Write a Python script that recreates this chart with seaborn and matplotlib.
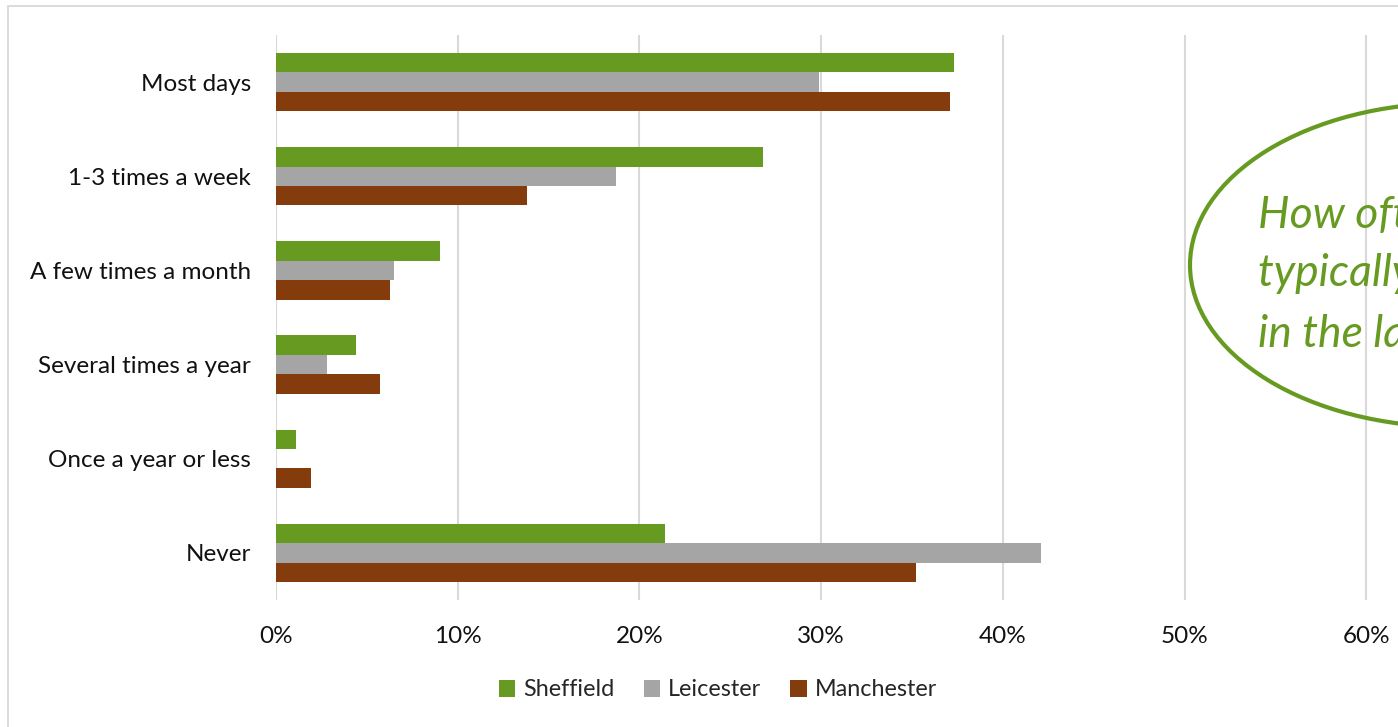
import matplotlib
matplotlib.use("Agg")
import matplotlib.pyplot as plt
from matplotlib.patches import Ellipse, Rectangle, Patch
from matplotlib.ticker import PercentFormatter
import pandas as pd
import seaborn as sns

# Survey responses: share of respondents per frequency band, by city
categories = ["Most days", "1-3 times a week", "A few times a month",
              "Several times a year", "Once a year or less", "Never"]
cities = ["Sheffield", "Leicester", "Manchester"]
sheffield = [37.3, 26.8, 9.0, 4.4, 1.1, 21.4]
leicester = [29.9, 18.7, 6.5, 2.8, 0.0, 42.1]
manchester = [37.1, 13.8, 6.3, 5.7, 1.9, 35.2]
x_ticks = [0, 10, 20, 30, 40, 50, 60]
callout_lines = ["How often have you", "typically visited", "in the last year?"]

colors = ["#669A21", "#A5A5A5", "#843C0C"]
GREEN = colors[0]

rows = []
for city, vals in zip(cities, [sheffield, leicester, manchester]):
    for cat, v in zip(categories, vals):
        rows.append({"category": cat, "city": city, "share": v})
df = pd.DataFrame(rows)

sns.set_theme(style="white")
plt.rcParams["font.family"] = ["Lato", "DejaVu Sans"]

W, H = 1398, 727
fig = plt.figure(figsize=(W / 100, H / 100), dpi=100)
fig.patch.set_facecolor("white")

# Axes spans 0%..70%; the right part runs past the canvas edge
left_px, top_px, bottom_px = 276, 35, 600
px_per_unit = 18.17
ax = fig.add_axes([left_px / W, 1 - bottom_px / H,
                   70 * px_per_unit / W, (bottom_px - top_px) / H])

sns.barplot(data=df, y="category", x="share", hue="city", order=categories,
            hue_order=cities, palette=colors, orient="h", width=0.62,
            saturation=1, gap=0, ax=ax, legend=False, linewidth=0)

ax.set_xlim(0, 70)
ax.set_ylim(5.5, -0.5)
ax.set_xticks(x_ticks)
ax.xaxis.set_major_formatter(PercentFormatter(decimals=0))
ax.set_xlabel("")
ax.set_ylabel("")
ax.grid(axis="x", color="#D9D9D9", linewidth=1.5)
ax.grid(axis="y", visible=False)
ax.set_axisbelow(True)
for s in ax.spines.values():
    s.set_visible(False)
ax.tick_params(axis="both", length=0, labelsize=17.5, labelcolor="#111111")
ax.tick_params(axis="y", pad=18)
ax.tick_params(axis="x", pad=19)

# Chart area frame
fig.add_artist(Rectangle((8 / W, -0.2), 1.2, 1.2 - 6 / H,
                         transform=fig.transFigure, fill=False,
                         edgecolor="#D9D9D9", linewidth=1.3))

# Callout bubble with question text
cx, cy, ew, eh = 1453, 265, 526, 324
fig.add_artist(Ellipse((cx / W, 1 - cy / H), ew / W, eh / H,
                       transform=fig.transFigure, fill=False,
                       edgecolor=GREEN, linewidth=3.0))
for line, base in zip(callout_lines, [228, 286, 347]):
    fig.text(1258 / W, 1 - base / H, line, color=GREEN, fontsize=32,
             fontstyle="italic", ha="left", va="baseline")

handles = [Patch(facecolor=c, edgecolor="none") for c in colors]
fig.legend(handles, cities, loc="center", bbox_to_anchor=(718 / W, 1 - 690 / H),
           ncol=3, frameon=False, fontsize=16.8, handlelength=0.7,
           handleheight=0.7, handletextpad=0.35, columnspacing=1.25)

fig.savefig("out.png", dpi=100)
